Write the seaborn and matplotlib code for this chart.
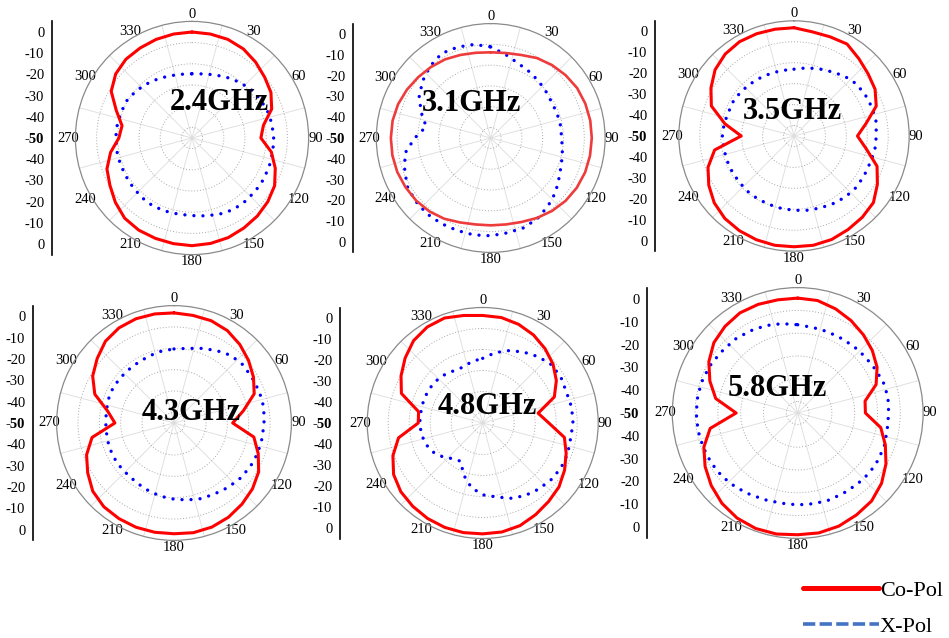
import numpy as np
import pandas as pd
import matplotlib
matplotlib.use("Agg")
import matplotlib.pyplot as plt
from matplotlib.lines import Line2D
from matplotlib.ticker import MultipleLocator
import seaborn as sns

# ---------------- data ----------------
ANGLES_DEG = [0, 10, 20, 30, 40, 50, 60, 70, 80, 90, 100, 110,
              120, 130, 140, 150, 160, 170, 180, 190, 200, 210, 220, 230,
              240, 250, 260, 270, 280, 290, 300, 310, 320, 330, 340, 350]

FREQ_LABELS = ["2.4GHz", "3.1GHz", "3.5GHz", "4.3GHz", "4.8GHz", "5.8GHz"]

CO_24 = [0, -0.2, -0.5, -1.5, -3.3, -5.3, -7, -10, -15.8, -17.5, -12, -8.2,
         -5, -3.3, -2, -1, 0, 0.5, 0.8, 0.6, 0.4, 0.2, -0.6, -2.8,
         -5.3, -7.3, -11, -15.5, -16.5, -12, -6, -3, -1.5, -1, -0.5, -0.2]
X_24 = [-19.7, -19.3, -18.3, -17, -15.5, -14, -13, -12.2, -11.7, -11.5, -11.3, -11.2,
        -11, -11, -11, -11, -11.8, -12.7, -13.4, -13.5, -13.3, -13, -13.3, -13.7,
        -14, -14, -14, -14, -14.2, -14.4, -14.6, -15.5, -16.7, -17.8, -18.8, -19.5]

CO_31 = [-8.8, -8.5, -7.5, -5.6, -4.2, -3, -2, -1.6, -1.4, -1.4, -1.5, -1.7,
         -2.2, -3, -4.2, -5.6, -7, -7.8, -8, -7.8, -6.8, -5.2, -4, -3.2,
         -2.7, -2.2, -2, -2, -2.1, -2.6, -3.5, -4.5, -5.4, -6.3, -7.5, -8.4]
X_31 = [-6.2, -9.2, -11.7, -13.1, -14.2, -15.3, -16, -16, -15.9, -15.9, -15, -13.8,
        -12, -9.3, -7.2, -5.2, -4, -3.7, -3, -2.7, -2.7, -2.5, -2.4, -2.8,
        -3.6, -6, -8.2, -13.5, -18.5, -14.5, -10.3, -7.3, -4.8, -3, -3.5, -4.3]

CO_35 = [1.7, 0.5, 0.4, 0.7, -1.8, -3.8, -5.3, -8.2, -15, -19.7, -15, -7.8,
         -4, -0.5, 0.7, 1.6, 2.6, 3, 2.9, 3, 2.7, 2.2, 1.4, -0.3,
         -3, -6.3, -11.5, -24.8, -16.5, -8, -4.2, -0.8, 1.1, 2, 2, 1.8]
X_35 = [-18.1, -17, -15.8, -14.5, -12.6, -11.2, -10.7, -10.3, -10.2, -10.7, -10.8, -11.5,
        -11.5, -11.5, -11.9, -12.7, -13.4, -14, -14.5, -14.9, -15.2, -15.3, -15.5, -15.8,
        -15.9, -15.9, -15.9, -15.8, -16.1, -16.7, -16.6, -17, -17.5, -17.9, -18.1, -18.2]

CO_43 = [1.6, 1.2, 1.0, 0, -2, -4.4, -7, -10, -17, -22.5, -12, -8,
         -4.2, -2, -0.4, 1, 1.9, 2.2, 1.9, 2, 2, 1.7, 1.2, -0.3,
         -3.3, -6.4, -11, -22.3, -18.5, -10.5, -6, -3, 0, 1.5, 2, 1.9]
X_43 = [-15.3, -14.5, -12.8, -10.7, -8.6, -7.7, -7.7, -7.4, -7.3, -7.8, -8.1, -8.3,
        -8.8, -9.6, -10.6, -11.7, -12.3, -13.4, -14.3, -15.1, -16, -16.9, -17.4, -17.5,
        -17.5, -17.6, -18, -18, -17.8, -17.3, -17, -17.1, -17.2, -17, -16.5, -15.8]

CO_48 = [1.2, 1.0, 0, -1.6, -3.8, -6.3, -9.5, -13.7, -23.2, -18.5, -10.5, -7.7,
         -5, -2.6, -1.2, 0.4, 2, 2.7, 2.8, 3, 2.9, 2.5, 1.8, 0.9,
         -1, -4.5, -9.3, -19.3, -19, -8.8, -5.1, -1.8, 1.2, 2.8, 3.2, 2]
X_48 = [-19.2, -16, -13.3, -11, -8.8, -7, -6.9, -7.5, -7, -7, -7.5, -7,
        -7, -7.7, -8.8, -10, -11.8, -14.3, -15.8, -18.8, -23.6, -29, -27.8, -25,
        -22.5, -21, -20.3, -20, -20.1, -19.9, -19.8, -19.9, -20.5, -21.5, -21.8, -20.3]

CO_58 = [0.4, 0.1, -1.4, -3.2, -5.2, -7.3, -9.8, -13.4, -20, -20.3, -13, -9.1,
         -5.3, -2, 0.4, 1.6, 2.8, 3.4, 3.4, 3.9, 3.9, 3.2, 1.7, -0.5,
         -3.1, -6.2, -11, -23, -13.5, -9, -5, -2, -0.4, 0.7, 0.7, 0.4]
X_58 = [-11.3, -11.9, -12, -12.1, -11.8, -11.5, -11, -10.1, -9.8, -10.1, -10.1, -9.4,
        -9.1, -9, -9.3, -9.5, -9.4, -9.6, -9.7, -9.8, -9.4, -8.6, -7.6, -6.7,
        -6.2, -5.9, -5.6, -5.5, -5.5, -5.8, -6.4, -7.2, -7.6, -8.4, -9.2, -10.2]

THETA_TICKS = [0, 30, 60, 90, 120, 150, 180, 210, 240, 270, 300, 330]
THETA_LABELS = ["0", "30", "60", "90", "120", "150", "180", "210", "240", "270", "300", "330"]
THETA_GRID = [15, 45, 75, 105, 135, 165, 195, 225, 255, 285, 315, 345]
R_GRID = [-45, -35, -25, -15, -5]
SCALE_POS = [50, 40, 30, 20, 10, 0, -10, -20, -30, -40, -50]
SCALE_LABELS = ["0", "-10", "-20", "-30", "-40", "-50", "-40", "-30", "-20", "-10", "0"]
LEGEND_LABELS = ["Co-Pol", "X-Pol"]

CO_SERIES = [CO_24, CO_31, CO_35, CO_43, CO_48, CO_58]
X_SERIES = [X_24, X_31, X_35, X_43, X_48, X_58]

# ---------------- layout (pixels) ----------------
W, H = 949, 638
# centre x, centre y, radius of 0 dB ring, x of dB scale spine, label x, label baseline y
LAYOUT = [
    (192.0, 138.0, 106.0, 52, 170, 110),
    (490.7, 138.0, 104.0, 353, 422, 111),
    (794.0, 136.0, 104.7, 655, 743, 119),
    (174.0, 423.0, 106.7, 33, 142, 420),
    (482.7, 423.0, 105.0, 340, 438, 414),
    (797.7, 413.0, 114.0, 647, 728, 396),
]
RMIN, RMAX = -50, 5

sns.set_style("white")
plt.rcParams["font.family"] = ["Liberation Serif", "DejaVu Serif"]
plt.rcParams["axes.unicode_minus"] = False
plt.rcParams["text.color"] = "black"
plt.rcParams["xtick.color"] = "black"
plt.rcParams["ytick.color"] = "black"
plt.rcParams["xtick.labelcolor"] = "black"
plt.rcParams["ytick.labelcolor"] = "black"

fig = plt.figure(figsize=(W / 100, H / 100), dpi=100)

for i, (cx, cy, r0, sx, tx, ty) in enumerate(LAYOUT):
    R = r0 * (RMAX - RMIN) / (0 - RMIN)
    ax = fig.add_axes([(cx - R) / W, 1 - (cy + R) / H, 2 * R / W, 2 * R / H],
                      projection="polar")
    ax.set_facecolor("none")
    ax.set_theta_zero_location("N")
    ax.set_theta_direction(-1)

    th = np.deg2rad(ANGLES_DEG + [ANGLES_DEG[0] + 360])
    co = CO_SERIES[i] + [CO_SERIES[i][0]]
    xp = X_SERIES[i] + [X_SERIES[i][0]]
    df_co = pd.DataFrame({"theta": th, "dB": co})
    df_x = pd.DataFrame({"theta": th, "dB": xp})

    co_color = "#EE3B3B" if i == 1 else "#FF0000"
    sns.lineplot(data=df_x, x="theta", y="dB", ax=ax, sort=False, estimator=None,
                 color="#0000FF", linewidth=2.4, linestyle=(0, (0.01, 2.7)),
                 dash_capstyle="round", zorder=3)
    sns.lineplot(data=df_co, x="theta", y="dB", ax=ax, sort=False, estimator=None,
                 color=co_color, linewidth=2.2 if i != 1 else 1.9, zorder=4)
    ax.set_xlabel("")
    ax.set_ylabel("")

    ax.set_ylim(RMIN, RMAX)
    ax.set_yticks(R_GRID)
    ax.set_yticklabels([])
    ax.yaxis.grid(True, linestyle=(0, (1, 2)), color="#a8a8a8", linewidth=0.7)

    ax.set_xticks(np.deg2rad(THETA_TICKS))
    ax.set_xticklabels(THETA_LABELS, fontsize=10.5)
    ax.set_xticks(np.deg2rad(THETA_GRID), minor=True)
    ax.xaxis.grid(False, which="major")
    ax.xaxis.grid(True, which="minor", color="#dcdcdc", linewidth=0.6, linestyle="-")
    ax.tick_params(axis="x", which="major", direction="inout", length=5, width=0.8,
                   color="#555555", pad=-4.5)
    ax.tick_params(axis="x", which="minor", length=0)
    ax.spines["polar"].set_color("#8a8a8a")
    ax.spines["polar"].set_linewidth(0.9)

    # dB scale to the left
    sax = fig.add_axes([sx / W, 1 - (cy + R) / H, 0.0005, 2 * R / H])
    sax.set_facecolor("none")
    sax.set_ylim(-(RMAX - RMIN), RMAX - RMIN)
    for side in ["right", "top", "bottom"]:
        sax.spines[side].set_visible(False)
    sax.spines["left"].set_linewidth(1.2)
    sax.spines["left"].set_color("black")
    sax.set_xticks([])
    sax.set_yticks(SCALE_POS)
    sax.set_yticklabels(SCALE_LABELS, fontsize=10.5)
    sax.yaxis.set_minor_locator(MultipleLocator(5))
    sax.tick_params(axis="y", which="major", direction="out", length=4, width=1, pad=1.5)
    sax.tick_params(axis="y", which="minor", direction="out", length=2.5, width=0.9)
    for lab in sax.get_yticklabels():
        if lab.get_text() == "-50":
            lab.set_fontweight("bold")

    fig.text(tx / W, 1 - ty / H, FREQ_LABELS[i], ha="left", va="baseline",
             fontsize=22, fontweight="bold", color="black")

handles = [Line2D([], [], color="#FF0000", linewidth=3.6),
           Line2D([], [], color="#4472C4", linewidth=2.6, linestyle=(0, (3.4, 1.2)))]
fig.legend(handles, LEGEND_LABELS, loc="upper left",
           bbox_to_anchor=(803 / W, 1 - 580 / H), frameon=False, fontsize=16,
           handlelength=3.4, handletextpad=0.05, labelspacing=0.72,
           borderpad=0, borderaxespad=0, labelcolor="black")

fig.savefig("out.png", dpi=100)
